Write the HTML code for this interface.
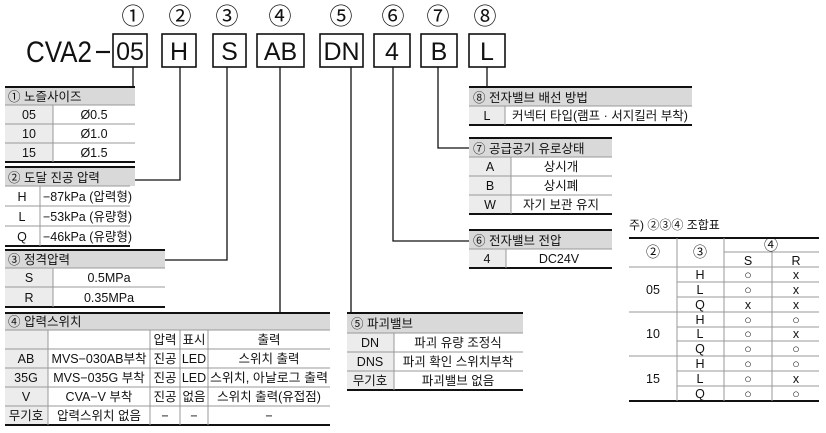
<!DOCTYPE html>
<html><head><meta charset="utf-8"><style>
html,body{margin:0;padding:0;background:#fff;}
svg{display:block;font-family:"Liberation Sans","Noto Sans CJK KR","NanumGothic",sans-serif;}
.t{font-size:12.5px;fill:#111;}
.c{text-anchor:middle;}
.h{fill:#d9d9d9;}
.g{fill:#ececec;}
.bk{stroke:#111;stroke-width:2;}
.gl{stroke:#999;stroke-width:1;}
.ln{stroke:#111;stroke-width:1.3;fill:none;}
.bx{fill:none;stroke:#111;stroke-width:1.6;}
.big{font-size:25px;text-anchor:middle;fill:#111;}
.num{font-size:23px;text-anchor:middle;fill:#111;}
</style></head><body>
<svg width="826" height="433" viewBox="0 0 826 433" xmlns="http://www.w3.org/2000/svg">
<text x="26" y="62" style="font-size:30px;fill:#111" textLength="66" lengthAdjust="spacingAndGlyphs">CVA2</text>
<line x1="96" y1="52" x2="110" y2="52" stroke="#111" stroke-width="2.2"/>
<rect class="bx" x="113" y="34" width="34" height="33"/><text class="big" x="130" y="60">05</text>
<rect class="bx" x="162" y="34" width="34" height="33"/><text class="big" x="179" y="60">H</text>
<rect class="bx" x="213" y="34" width="33" height="33"/><text class="big" x="229.5" y="60">S</text>
<rect class="bx" x="257" y="34" width="47" height="33"/><text class="big" x="280.5" y="60">AB</text>
<rect class="bx" x="320" y="34" width="43" height="33"/><text class="big" x="341.5" y="60">DN</text>
<rect class="bx" x="374" y="34" width="36" height="33"/><text class="big" x="392" y="60">4</text>
<rect class="bx" x="421" y="34" width="36" height="33"/><text class="big" x="439" y="60">B</text>
<rect class="bx" x="469" y="34" width="36" height="33"/><text class="big" x="487" y="60">L</text>
<text class="num" x="133" y="24">①</text>
<text class="num" x="180" y="24">②</text>
<text class="num" x="227" y="24">③</text>
<text class="num" x="280" y="24">④</text>
<text class="num" x="341" y="24">⑤</text>
<text class="num" x="393" y="24">⑥</text>
<text class="num" x="438" y="24">⑦</text>
<text class="num" x="485" y="24">⑧</text>
<polyline class="ln" points="133,67 133,87"/>
<polyline class="ln" points="180,67 180,180 135,180"/>
<polyline class="ln" points="227,67 227,260 165,260"/>
<polyline class="ln" points="280,67 280,313"/>
<polyline class="ln" points="351,67 351,313"/>
<polyline class="ln" points="393,67 393,241 469,241"/>
<polyline class="ln" points="438,67 438,148 469,148"/>
<polyline class="ln" points="487,67 487,87"/>

<rect class="h" x="5" y="87" width="130" height="18"/>
<rect class="g" x="5" y="105" width="48" height="57"/>
<line class="bk" x1="5" y1="87" x2="135" y2="87"/>
<line class="gl" x1="5" y1="105" x2="135" y2="105"/>
<line class="gl" x1="5" y1="124" x2="135" y2="124"/>
<line class="gl" x1="5" y1="143" x2="135" y2="143"/>
<line class="bk" x1="5" y1="162" x2="135" y2="162"/>
<line class="gl" x1="53" y1="105" x2="53" y2="162"/>
<text class="t" x="8" y="101">① 노즐사이즈</text>
<text class="t c" x="29" y="119">05</text><text class="t c" x="94" y="119">Ø0.5</text>
<text class="t c" x="29" y="138">10</text><text class="t c" x="94" y="138">Ø1.0</text>
<text class="t c" x="29" y="157">15</text><text class="t c" x="94" y="157">Ø1.5</text>

<rect class="h" x="5" y="167" width="130" height="19"/>
<line class="bk" x1="5" y1="167" x2="135" y2="167"/>
<line class="gl" x1="5" y1="186" x2="130" y2="186"/>
<line class="gl" x1="5" y1="206" x2="130" y2="206"/>
<line class="gl" x1="5" y1="226" x2="130" y2="226"/>
<line class="bk" x1="5" y1="246" x2="130" y2="246"/>
<line class="gl" x1="40" y1="186" x2="40" y2="246"/>
<text class="t" x="8" y="182">② 도달 진공 압력</text>
<text class="t c" x="22" y="201">H</text><text class="t" x="43" y="201">−87kPa (압력형)</text>
<text class="t c" x="22" y="221">L</text><text class="t" x="43" y="221">−53kPa (유량형)</text>
<text class="t c" x="22" y="241">Q</text><text class="t" x="43" y="241">−46kPa (유량형)</text>

<rect class="h" x="5" y="250" width="160" height="18"/>
<rect class="g" x="5" y="268" width="48" height="39"/>
<line class="bk" x1="5" y1="250" x2="165" y2="250"/>
<line class="gl" x1="5" y1="268" x2="165" y2="268"/>
<line class="gl" x1="5" y1="287" x2="165" y2="287"/>
<line class="bk" x1="5" y1="307" x2="165" y2="307"/>
<line class="gl" x1="53" y1="268" x2="53" y2="307"/>
<text class="t" x="8" y="264">③ 정격압력</text>
<text class="t c" x="29" y="282">S</text><text class="t c" x="109" y="282">0.5MPa</text>
<text class="t c" x="29" y="302">R</text><text class="t c" x="109" y="302">0.35MPa</text>

<rect class="h" x="5" y="313" width="325" height="17"/>
<rect class="g" x="5" y="330" width="43" height="95"/>
<line class="bk" x1="5" y1="313" x2="330" y2="313"/>
<line class="gl" x1="5" y1="330" x2="330" y2="330"/>
<line class="gl" x1="5" y1="349" x2="330" y2="349"/>
<line class="gl" x1="5" y1="368" x2="330" y2="368"/>
<line class="gl" x1="5" y1="387" x2="330" y2="387"/>
<line class="gl" x1="5" y1="406" x2="330" y2="406"/>
<line class="bk" x1="5" y1="425" x2="330" y2="425"/>
<line class="gl" x1="48" y1="330" x2="48" y2="425"/>
<line class="gl" x1="150" y1="330" x2="150" y2="425"/>
<line class="gl" x1="180" y1="330" x2="180" y2="425"/>
<line class="gl" x1="208" y1="330" x2="208" y2="425"/>
<text class="t" x="8" y="326">④ 압력스위치</text>
<text class="t c" x="165" y="344">압력</text><text class="t c" x="194" y="344">표시</text><text class="t c" x="269" y="344">출력</text>
<text class="t c" x="26" y="363">AB</text><text class="t c" x="99" y="363">MVS−030AB부착</text><text class="t c" x="165" y="363">진공</text><text class="t c" x="194" y="363">LED</text><text class="t c" x="269" y="363">스위치 출력</text>
<text class="t c" x="26" y="382">35G</text><text class="t c" x="99" y="382">MVS−035G 부착</text><text class="t c" x="165" y="382">진공</text><text class="t c" x="194" y="382">LED</text><text class="t c" x="269" y="382" textLength="118" lengthAdjust="spacingAndGlyphs">스위치, 아날로그 출력</text>
<text class="t c" x="26" y="401">V</text><text class="t c" x="99" y="401">CVA−V 부착</text><text class="t c" x="165" y="401">진공</text><text class="t c" x="194" y="401">없음</text><text class="t c" x="269" y="401">스위치 출력(유접점)</text>
<text class="t c" x="26" y="420">무기호</text><text class="t c" x="99" y="420">압력스위치 없음</text><text class="t c" x="165" y="420">−</text><text class="t c" x="194" y="420">−</text><text class="t c" x="269" y="420">−</text>

<rect class="h" x="347" y="313" width="176" height="20"/>
<rect class="g" x="347" y="333" width="47" height="57"/>
<line class="bk" x1="347" y1="313" x2="523" y2="313"/>
<line class="gl" x1="347" y1="333" x2="523" y2="333"/>
<line class="gl" x1="347" y1="352" x2="523" y2="352"/>
<line class="gl" x1="347" y1="371" x2="523" y2="371"/>
<line class="bk" x1="347" y1="390" x2="523" y2="390"/>
<line class="gl" x1="394" y1="333" x2="394" y2="390"/>
<text class="t" x="351" y="328">⑤ 파괴밸브</text>
<text class="t c" x="370" y="347">DN</text><text class="t c" x="458" y="347">파괴 유량 조정식</text>
<text class="t c" x="370" y="366">DNS</text><text class="t c" x="458" y="366">파괴 확인 스위치부착</text>
<text class="t c" x="370" y="385">무기호</text><text class="t c" x="458" y="385">파괴밸브 없음</text>

<rect class="h" x="469" y="230" width="143" height="19"/>
<rect class="g" x="469" y="249" width="37" height="19"/>
<line class="bk" x1="469" y1="230" x2="612" y2="230"/>
<line class="gl" x1="469" y1="249" x2="612" y2="249"/>
<line class="bk" x1="469" y1="268" x2="612" y2="268"/>
<line class="gl" x1="506" y1="249" x2="506" y2="268"/>
<text class="t" x="473" y="245">⑥ 전자밸브 전압</text>
<text class="t c" x="487" y="263">4</text><text class="t c" x="559" y="263">DC24V</text>

<rect class="h" x="469" y="138" width="143" height="19"/>
<rect class="g" x="469" y="157" width="42" height="57"/>
<line class="bk" x1="469" y1="138" x2="612" y2="138"/>
<line class="gl" x1="469" y1="157" x2="612" y2="157"/>
<line class="gl" x1="469" y1="176" x2="612" y2="176"/>
<line class="gl" x1="469" y1="195" x2="612" y2="195"/>
<line class="bk" x1="469" y1="214" x2="612" y2="214"/>
<line class="gl" x1="511" y1="157" x2="511" y2="214"/>
<text class="t" x="473" y="153">⑦ 공급공기 유로상태</text>
<text class="t c" x="490" y="171">A</text><text class="t c" x="561" y="171">상시개</text>
<text class="t c" x="490" y="190">B</text><text class="t c" x="561" y="190">상시폐</text>
<text class="t c" x="490" y="209">W</text><text class="t c" x="561" y="209">자기 보관 유지</text>

<rect class="h" x="469" y="87" width="223" height="19"/>
<rect class="g" x="469" y="106" width="36" height="19"/>
<line class="bk" x1="469" y1="87" x2="692" y2="87"/>
<line class="gl" x1="469" y1="106" x2="692" y2="106"/>
<line class="bk" x1="469" y1="125" x2="692" y2="125"/>
<line class="gl" x1="505" y1="106" x2="505" y2="125"/>
<text class="t" x="473" y="102">⑧ 전자밸브 배선 방법</text>
<text class="t c" x="487" y="120">L</text><text class="t" x="512" y="120">커넥터 타입(램프 · 서지킬러 부착)</text>

<text x="629" y="229" style="font-size:12px;fill:#111">주) ②③④ 조합표</text>
<line class="bk" x1="629" y1="238" x2="819" y2="238"/>
<line class="gl" x1="724" y1="252" x2="819" y2="252"/>
<line class="gl" x1="629" y1="267" x2="819" y2="267"/>
<line class="gl" x1="629" y1="312" x2="819" y2="312"/>
<line class="gl" x1="629" y1="356" x2="819" y2="356"/>
<line class="bk" x1="629" y1="401" x2="819" y2="401"/>
<g class="gl">
<line x1="677" y1="238" x2="677" y2="401"/>
<line x1="724" y1="238" x2="724" y2="401"/>
<line x1="772" y1="252" x2="772" y2="401"/>
<line x1="677" y1="282" x2="819" y2="282"/><line x1="677" y1="297" x2="819" y2="297"/>
<line x1="677" y1="327" x2="819" y2="327"/><line x1="677" y1="341" x2="819" y2="341"/>
<line x1="677" y1="371" x2="819" y2="371"/><line x1="677" y1="386" x2="819" y2="386"/>
</g>
<g class="t c" style="font-size:12.5px">
<text x="653" y="257" style="font-size:14px">②</text><text x="700" y="257" style="font-size:14px">③</text><text x="771" y="250" style="font-size:14px">④</text>
<text x="748" y="265">S</text><text x="796" y="265">R</text>
<text x="653" y="294">05</text><text x="653" y="338">10</text><text x="653" y="383">15</text>
<text x="700" y="279">H</text><text x="700" y="294">L</text><text x="700" y="309">Q</text>
<text x="700" y="324">H</text><text x="700" y="338">L</text><text x="700" y="353">Q</text>
<text x="700" y="368">H</text><text x="700" y="383">L</text><text x="700" y="398">Q</text>
<text x="748" y="279">○</text><text x="796" y="279">x</text>
<text x="748" y="294">○</text><text x="796" y="294">x</text>
<text x="748" y="309">x</text><text x="796" y="309">x</text>
<text x="748" y="324">○</text><text x="796" y="324">○</text>
<text x="748" y="338">○</text><text x="796" y="338">x</text>
<text x="748" y="353">○</text><text x="796" y="353">○</text>
<text x="748" y="368">○</text><text x="796" y="368">○</text>
<text x="748" y="383">○</text><text x="796" y="383">x</text>
<text x="748" y="398">○</text><text x="796" y="398">○</text>
</g>
</svg>
</body></html>
